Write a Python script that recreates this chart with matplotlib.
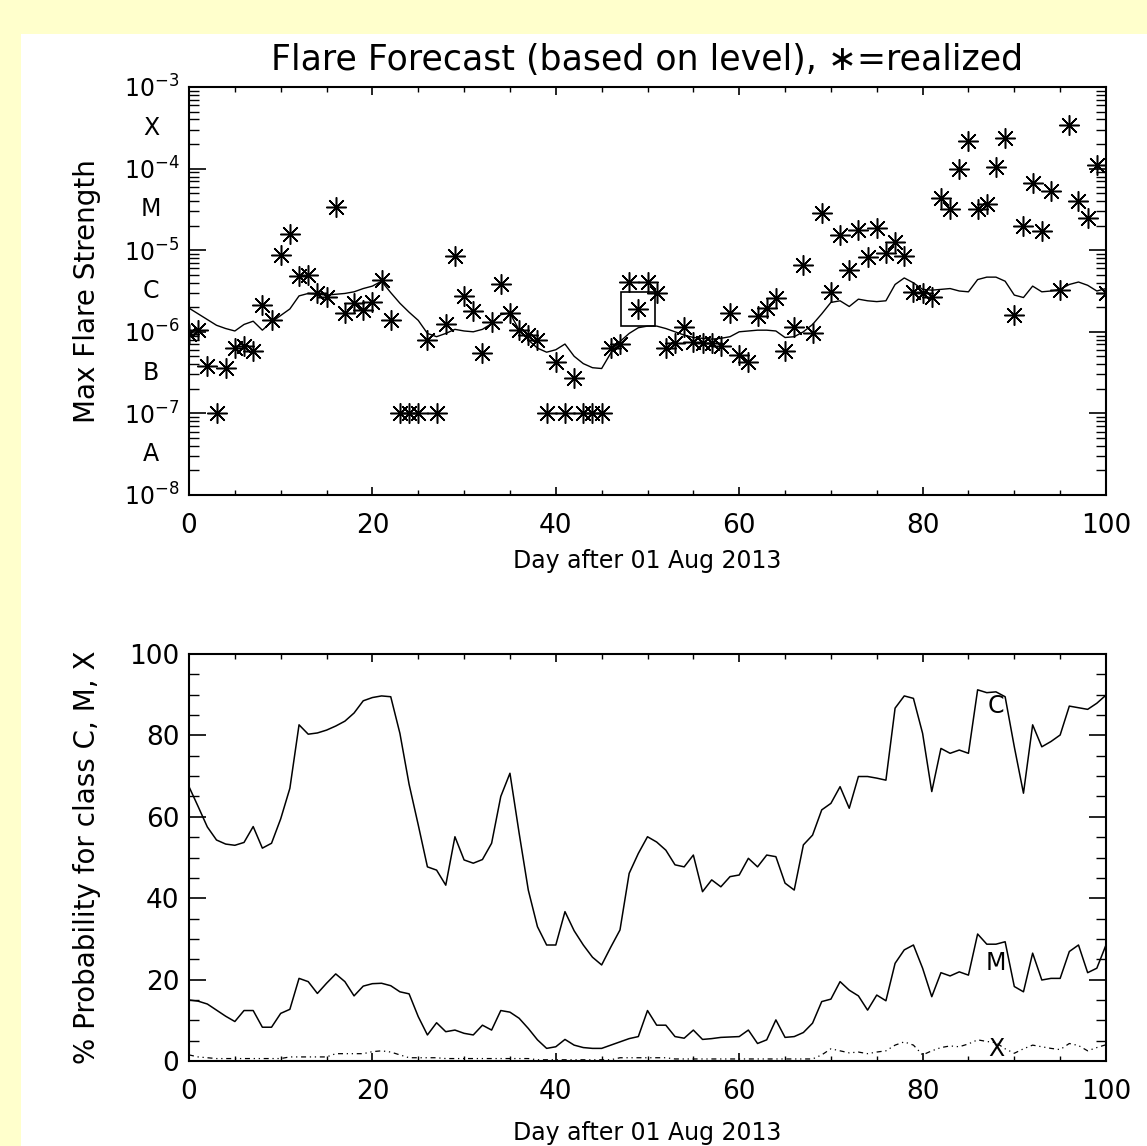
import numpy as np
import matplotlib
matplotlib.use('Agg')
import matplotlib.pyplot as plt
from matplotlib.patches import Rectangle
from matplotlib.ticker import FixedLocator, LogLocator, NullFormatter

# ---- data ----
days = np.arange(0, 101)

# forecast level, log10(W/m^2)
forecast_log = [
    -5.71, -5.78, -5.85, -5.92, -5.96, -5.99, -5.91, -5.87, -5.98, -5.88,
    -5.80, -5.72, -5.56, -5.53, -5.54, -5.55, -5.54, -5.53, -5.51, -5.47,
    -5.44, -5.38, -5.52, -5.65, -5.76, -5.86, -6.02, -6.06, -6.02, -5.97,
    -5.99, -6.00, -5.97, -5.90, -5.79, -5.77, -5.98, -6.10, -6.20, -6.25,
    -6.22, -6.15, -6.30, -6.39, -6.44, -6.45, -6.26, -6.12, -6.02, -5.95,
    -5.93, -5.93, -5.96, -6.00, -6.04, -6.07, -6.08, -6.09, -6.08, -6.06,
    -6.00, -5.99, -5.98, -5.98, -5.99, -6.07, -6.06, -6.00, -5.91, -5.78,
    -5.64, -5.62, -5.69, -5.60, -5.62, -5.63, -5.62, -5.42, -5.34, -5.40,
    -5.48, -5.49, -5.48, -5.47, -5.50, -5.51, -5.36, -5.33, -5.33, -5.38,
    -5.55, -5.58, -5.44, -5.51, -5.50, -5.48, -5.42, -5.39, -5.43, -5.50,
    -5.47]

# realized max flare level, log10(W/m^2); -7 = below A
realized_log = [
    -6.03, -5.98, -6.42, -7.00, -6.44, -6.20, -6.17, -6.24, -5.67, -5.86,
    -5.06, -4.80, -5.32, -5.30, -5.52, -5.57, -4.47, -5.77, -5.65, -5.73,
    -5.63, -5.36, -5.85, -7.00, -7.00, -7.00, -6.10, -7.00, -5.90, -5.07,
    -5.56, -5.75, -6.26, -5.88, -5.42, -5.77, -5.98, -6.04, -6.10, -7.00,
    -6.37, -7.00, -6.57, -7.00, -7.00, -7.00, -6.20, -6.15, -5.39, -5.72,
    -5.39, -5.52, -6.20, -6.14, -5.94, -6.12, -6.14, -6.14, -6.18, -5.77,
    -6.28, -6.37, -5.81, -5.71, -5.58, -6.24, -5.94, -5.18, -6.01, -4.55,
    -5.51, -4.81, -5.24, -4.75, -5.08, -4.73, -5.04, -4.90, -5.07, -5.51,
    -5.53, -5.57, -4.36, -4.49, -4.01, -3.66, -4.49, -4.43, -3.98, -3.62,
    -5.79, -4.70, -4.18, -4.77, -4.28, -5.49, -3.46, -4.40, -4.60, -3.96,
    -5.52]

box_day = 49
box_log = -5.72

# probabilities (%)
prob_c = [
    67.4, 62.5, 57.5, 54.3, 53.3, 53.0, 53.7, 57.6, 52.3, 53.5,
    59.5, 67.0, 82.6, 80.3, 80.6, 81.3, 82.3, 83.5, 85.5, 88.5,
    89.3, 89.7, 89.5, 80.5, 68.0, 58.0, 47.7, 46.9, 43.2, 55.1,
    49.4, 48.6, 49.5, 53.5, 65.0, 70.7, 56.0, 42.0, 33.0, 28.5,
    28.5, 36.7, 32.0, 28.5, 25.5, 23.6, 28.0, 32.2, 46.1, 51.0,
    55.1, 53.8, 51.8, 48.2, 47.7, 50.6, 41.6, 44.5, 42.8, 45.3,
    45.7, 49.8, 47.7, 50.6, 50.2, 43.7, 42.0, 53.1, 55.5, 61.7,
    63.3, 67.4, 62.1, 69.9, 69.9, 69.5, 69.0, 86.7, 89.7, 89.1,
    80.5, 66.2, 76.8, 75.6, 76.4, 75.6, 91.2, 90.5, 90.7, 89.5,
    77.2, 65.8, 82.6, 77.2, 78.5, 80.1, 87.2, 86.8, 86.4, 87.9,
    89.9]

prob_m = [
    15.0, 14.7, 14.0, 12.5, 11.0, 9.7, 12.4, 12.4, 8.3, 8.3,
    11.7, 12.7, 20.3, 19.5, 16.6, 19.1, 21.4, 19.5, 16.0, 18.4,
    19.0, 19.1, 18.5, 17.0, 16.5, 10.9, 6.4, 9.4, 7.2, 7.6,
    6.8, 6.4, 8.8, 7.6, 12.4, 12.0, 10.5, 8.0, 5.2, 3.1,
    3.5, 5.3, 3.9, 3.3, 3.1, 3.1, 3.9, 4.7, 5.5, 6.0,
    12.4, 8.8, 8.8, 6.0, 5.6, 7.6, 5.3, 5.5, 5.8, 5.9,
    6.0, 7.6, 4.3, 5.2, 10.1, 5.8, 6.0, 7.0, 9.3, 14.6,
    15.2, 19.5, 17.4, 16.0, 12.5, 16.2, 14.8, 24.0, 27.3, 28.5,
    22.8, 15.8, 21.7, 20.9, 21.9, 21.1, 31.2, 28.7, 28.7, 29.3,
    18.3, 17.0, 26.5, 19.9, 20.3, 20.3, 26.9, 28.5, 21.7, 22.8,
    28.5]

prob_x = [
    1.5, 1.0, 0.8, 0.6, 0.6, 0.6, 0.6, 0.6, 0.6, 0.6,
    0.6, 1.0, 1.0, 1.0, 1.0, 1.0, 1.8, 1.8, 1.8, 1.8,
    2.3, 2.5, 2.2, 1.5, 0.8, 0.8, 0.8, 0.8, 0.6, 0.6,
    0.6, 0.6, 0.6, 0.6, 0.6, 0.6, 0.6, 0.6, 0.3, 0.3,
    0.3, 0.3, 0.3, 0.3, 0.3, 0.3, 0.3, 0.8, 0.8, 0.8,
    0.8, 0.8, 0.8, 0.5, 0.5, 0.5, 0.5, 0.5, 0.5, 0.5,
    0.5, 0.5, 0.5, 0.5, 0.5, 0.5, 0.5, 0.5, 0.5, 1.5,
    3.0, 2.5, 2.0, 2.2, 1.8, 2.2, 2.5, 3.9, 4.7, 3.9,
    1.5, 2.5, 3.3, 3.7, 3.5, 4.2, 5.2, 4.8, 4.5, 3.0,
    1.9, 3.0, 3.9, 3.5, 3.1, 2.8, 4.3, 3.8, 2.5, 3.3,
    4.0]

class_letters = ['X', 'M', 'C', 'B', 'A']
class_label_day = 88

W, H = 1147, 1146
fig = plt.figure(figsize=(W / 100, H / 100), dpi=100)
fig.patch.set_facecolor('#ffffcc')
fig.patches.append(Rectangle((21 / W, 0), 1 - 21 / W, 1 - 34 / H,
                             transform=fig.transFigure, facecolor='white',
                             edgecolor='none', zorder=-10))

left = 189 / W
width = (1106 - 189) / W
ax1 = fig.add_axes([left, 1 - 495 / H, width, (495 - 87) / H])
ax2 = fig.add_axes([left, 1 - 1061 / H, width, (1061 - 654) / H])

tick_fs = 19
xlabel_fs = 17
ylabel_fs = 20

for ax, xlab_y in ((ax1, -0.133), (ax2, -0.148)):
    ax.set_facecolor('white')
    for sp in ax.spines.values():
        sp.set_linewidth(1.5)
    ax.set_xlim(0, 100)
    ax.xaxis.set_major_locator(FixedLocator([0, 20, 40, 60, 80, 100]))
    ax.xaxis.set_minor_locator(FixedLocator(np.arange(0, 101, 5)))
    ax.tick_params(axis='x', which='major', direction='in', length=6,
                   width=1.2, top=True, pad=13, labelsize=tick_fs)
    ax.tick_params(axis='x', which='minor', direction='in', length=3.5,
                   width=1.0, top=True)
    ax.tick_params(axis='y', which='major', direction='in', length=12,
                   width=1.2, right=True, pad=7, labelsize=tick_fs)
    ax.tick_params(axis='y', which='minor', direction='in', length=7,
                   width=1.0, right=True)
    ax.set_xlabel('Day after 01 Aug 2013', fontsize=xlabel_fs)
    ax.xaxis.set_label_coords(0.5, xlab_y)

# ---- top: forecast vs realized ----
ax1.set_yscale('log')
ax1.set_ylim(1e-8, 1e-3)
ax1.yaxis.set_major_locator(FixedLocator([1e-8, 1e-7, 1e-6, 1e-5, 1e-4, 1e-3]))
ax1.yaxis.set_minor_locator(LogLocator(base=10, subs=np.arange(2, 10)))
ax1.yaxis.set_minor_formatter(NullFormatter())
ax1.set_yticklabels([r'$10^{-8}$', r'$10^{-7}$', r'$10^{-6}$', r'$10^{-5}$',
                     r'$10^{-4}$', r'$10^{-3}$'], fontsize=17)

ax1.plot(days, 10 ** np.array(forecast_log), color='black', lw=1.0, zorder=2)
ax1.plot(days, 10 ** np.array(realized_log), linestyle='none',
         marker=(8, 2, 0), markersize=14.5, markeredgewidth=1.1,
         color='black', zorder=3)
ax1.plot([box_day], [10 ** box_log], marker='s', markersize=25,
         markerfacecolor='none', markeredgecolor='black',
         markeredgewidth=1.2, zorder=3)

trans = ax1.get_yaxis_transform()
for i, letter in enumerate(class_letters):
    ax1.text(-0.0414, 10 ** (-3.5 - i), letter, transform=trans,
             ha='center', va='center', fontsize=17)

ax1.set_ylabel('Max Flare Strength', fontsize=ylabel_fs)
ax1.yaxis.set_label_coords(-0.096, 0.5)
fig.text(0.5 * (189 + 1106) / W, 1 - 60 / H,
         'Flare Forecast (based on level), \u2217=realized',
         ha='center', va='center', fontsize=25)

# ---- bottom: probabilities ----
ax2.set_ylim(0, 100)
ax2.yaxis.set_major_locator(FixedLocator([0, 20, 40, 60, 80, 100]))
ax2.yaxis.set_minor_locator(FixedLocator(np.arange(0, 101, 5)))

ax2.plot(days, prob_c, color='black', lw=1.1)
ax2.plot(days, prob_m, color='black', lw=1.1)
ax2.plot(days, prob_x, color='black', lw=0.9,
         linestyle=(0, (4, 3, 1, 3, 1, 3)))

for series, letter, off in ((prob_c, 'C', -3.5), (prob_m, 'M', -4.5),
                            (prob_x, 'X', -1.5)):
    ax2.text(class_label_day, series[class_label_day] + off, letter,
             ha='center', va='center', fontsize=17)

ax2.set_ylabel('% Probability for class C, M, X', fontsize=ylabel_fs)
ax2.yaxis.set_label_coords(-0.096, 0.5)

fig.savefig('out.png', dpi=100, facecolor=fig.get_facecolor())
